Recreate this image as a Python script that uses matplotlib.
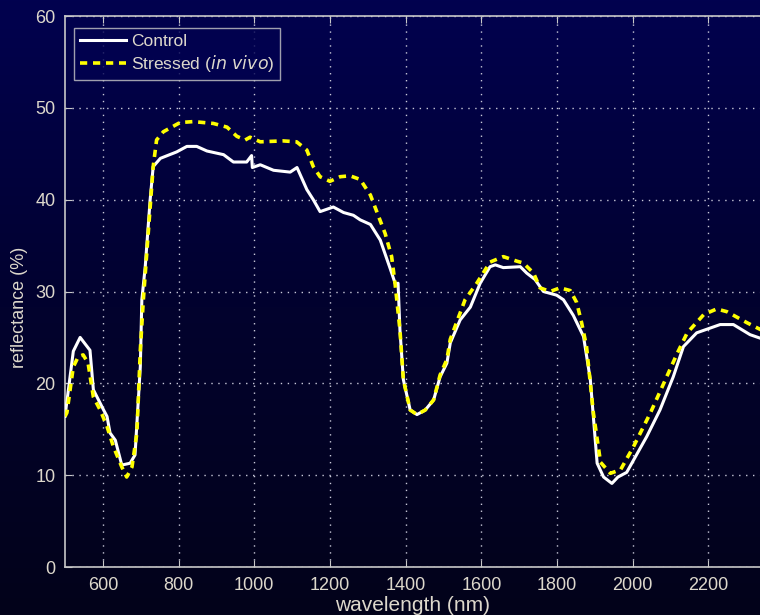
import numpy as np
import matplotlib
matplotlib.use("Agg")
import matplotlib.pyplot as plt
from matplotlib.colors import LinearSegmentedColormap

# reflectance spectra
wl_control = [500, 522, 540, 566, 575, 602, 611, 619, 633, 650, 672, 685, 699, 703,
              712, 725, 733, 752, 795, 822, 848, 875, 919, 945, 980, 993, 995, 1016,
              1051, 1095, 1113, 1139, 1156, 1174, 1209, 1236, 1262, 1280, 1307, 1333,
              1360, 1373, 1380, 1385, 1394, 1412, 1430, 1452, 1474, 1491, 1509, 1518,
              1544, 1571, 1597, 1623, 1637, 1658, 1703, 1720, 1742, 1764, 1799, 1817,
              1843, 1870, 1888, 1906, 1923, 1945, 1961, 1984, 2037, 2072, 2107, 2134,
              2169, 2231, 2266, 2310, 2345]
control = [16.4, 23.5, 25.0, 23.6, 19.3, 17.1, 16.4, 14.6, 13.8, 11.1, 11.3, 12.2, 21.8, 29.1,
           32.7, 40.0, 43.6, 44.5, 45.2, 45.8, 45.8, 45.3, 44.9, 44.1, 44.1, 44.8, 43.5, 43.8,
           43.2, 43.0, 43.5, 41.1, 40.0, 38.7, 39.2, 38.6, 38.3, 37.8, 37.3, 35.6,
           32.4, 30.8, 30.9, 25.8, 20.4, 17.1, 16.6, 17.1, 18.2, 20.7, 22.2, 24.4,
           26.9, 28.3, 30.9, 32.7, 32.9, 32.6, 32.7, 32.0, 31.3, 30.0, 29.6, 29.1,
           27.4, 25.1, 20.4, 11.3, 9.8, 9.1, 9.8, 10.3, 14.2, 17.1, 20.7, 24.0,
           25.5, 26.4, 26.4, 25.3, 24.8]

wl_stressed = [500, 505, 522, 535, 548, 561, 575, 593, 611, 628, 650, 663, 677, 690, 699,
               707, 720, 733, 742, 760, 804, 839, 892, 928, 954, 976, 989, 1016, 1076,
               1112, 1139, 1156, 1174, 1200, 1227, 1253, 1280, 1307, 1346, 1363, 1372,
               1385, 1394, 1412, 1430, 1452, 1474, 1491, 1509, 1518, 1557, 1588, 1623,
               1658, 1694, 1711, 1738, 1755, 1782, 1808, 1835, 1852, 1865, 1878, 1896,
               1915, 1941, 1968, 2002, 2047, 2082, 2118, 2144, 2188, 2222, 2249, 2302, 2345]
stressed = [16.4, 16.8, 21.8, 22.9, 23.1, 22.2, 18.5, 17.1, 15.3, 13.1, 10.9, 9.8, 10.9, 14.6, 23.6,
            29.1, 36.4, 43.6, 46.5, 47.4, 48.4, 48.5, 48.3, 47.9, 46.9, 46.5, 46.8, 46.3, 46.4,
            46.3, 45.4, 43.6, 42.5, 42.0, 42.5, 42.6, 42.2, 40.5, 36.3, 33.8, 30.9,
            25.8, 20.4, 17.1, 16.6, 17.1, 18.2, 20.9, 22.6, 24.8, 29.1, 30.9, 33.2,
            33.8, 33.3, 33.1, 32.0, 30.4, 30.0, 30.4, 30.1, 28.8, 26.6, 24.0, 16.8,
            11.4, 10.2, 10.6, 13.1, 16.8, 20.0, 23.3, 25.5, 27.5, 28.1, 27.8, 26.6, 25.7]

xticks = [600, 800, 1000, 1200, 1400, 1600, 1800, 2000, 2200]
yticks = [0, 10, 20, 30, 40, 50, 60]

txt = "#ddd8cc"
edge = "#c8c8c8"
plt.rcParams['font.family'] = ['Liberation Sans', 'DejaVu Sans']

fig = plt.figure(figsize=(7.6, 6.15), dpi=100)

# dark blue gradient behind everything
bg = fig.add_axes([0, 0, 1, 1], zorder=-10)
cmap = LinearSegmentedColormap.from_list("bg", ["#01014f", "#02022e", "#03031a"])
bg.imshow(np.linspace(0, 1, 256).reshape(-1, 1), aspect="auto", cmap=cmap,
          extent=[0, 1, 0, 1])
bg.axis("off")

# axes box runs off the right edge like in the source image
ax = fig.add_axes([65 / 760, 48 / 615, 830 / 760, 551 / 615])
ax.patch.set_alpha(0)
ax.plot(wl_control, control, color="white", lw=2.2, label="Control", zorder=3)
ax.plot(wl_stressed, stressed, color="#ffff00", lw=2.6, ls=(0, (2.0, 1.6)),
        label="Stressed ($\\it{in\\ vivo}$)", zorder=4)

ax.set_xlim(500, 2693)
ax.set_ylim(0, 60)
ax.set_xticks(xticks)
ax.set_yticks(yticks)
ax.tick_params(direction="in", length=5, colors=edge, labelcolor=txt,
               labelsize=13, top=True, right=True, pad=7)
for s in ax.spines.values():
    s.set_color(edge)
    s.set_linewidth(1.2)
ax.grid(True, color="#c8c8d8", ls=(0, (1, 4)), lw=1.0)
ax.set_xlabel("wavelength (nm)", color=txt, fontsize=15)
ax.xaxis.set_label_coords((413 - 65) / 830, -0.053, transform=ax.transAxes)
ax.xaxis.label.set_va("top")
ax.set_ylabel("reflectance (%)", color=txt, fontsize=13)
ax.yaxis.set_label_coords(-0.045, (567 - 307) / 551, transform=ax.transAxes)

leg = ax.legend(loc="upper left", bbox_to_anchor=(0.005, 0.988), fontsize=12.5,
                frameon=True, fancybox=False, handlelength=2.6, handletextpad=0.3,
                borderpad=0.35, labelspacing=0.25, borderaxespad=0.3)
leg.get_frame().set_facecolor("#010150")
leg.get_frame().set_edgecolor(edge)
leg.get_frame().set_linewidth(1.0)
for t in leg.get_texts():
    t.set_color(txt)

fig.savefig("out.png", dpi=100)
